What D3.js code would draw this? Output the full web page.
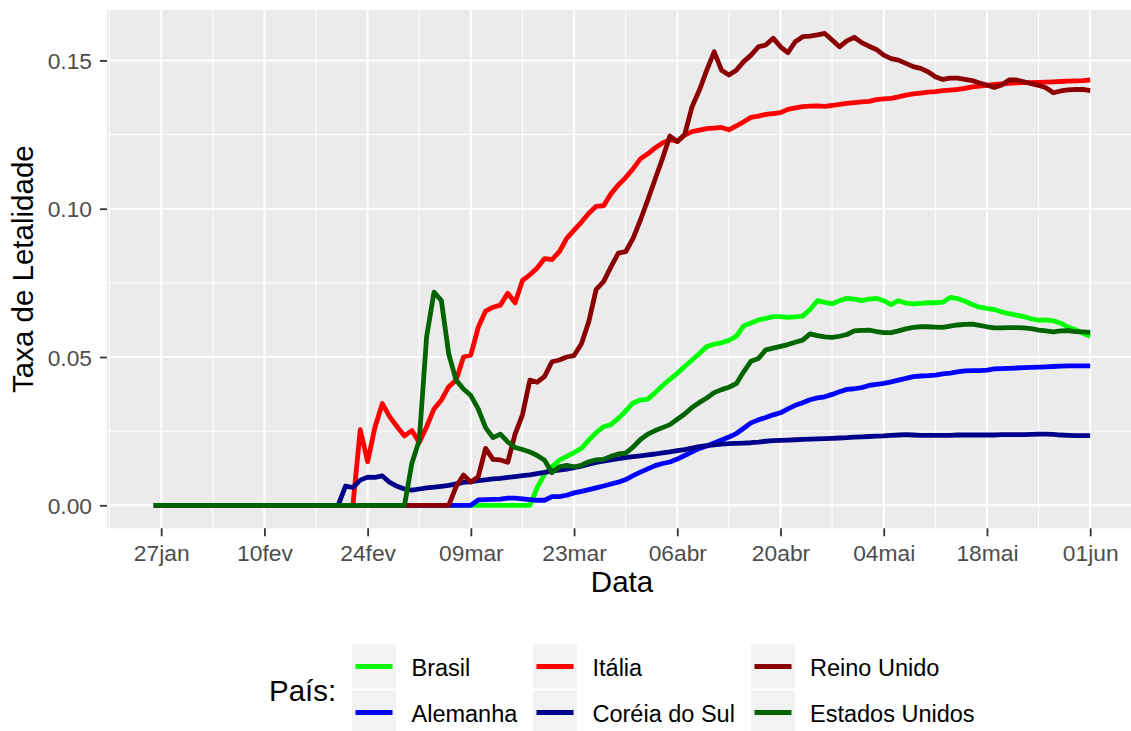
<!DOCTYPE html>
<html><head><meta charset="utf-8">
<script src="https://cdn.jsdelivr.net/npm/d3@7"></script>
<style>
body{margin:0;background:#fff}
text{font-family:Arial,"Liberation Sans",sans-serif}
</style>
</head><body>
<svg id="chart" width="1131" height="731"></svg>
<script>
// ---------- data (daily, 2020-01-26 .. 2020-06-01) ----------
const firstDay = "2020-01-26";
const lastDay = "2020-06-01";

const countries = ["Brasil","Alemanha","Itália","Coréia do Sul","Reino Unido","Estados Unidos"];
const colors = ["#00FF00","#0000FF","#FF0000","#00008B","#8B0000","#006400"];

const brasil = [
 0,0,0,0,0,0,0,0,0,0,
 0,0,0,0,0,0,0,0,0,0,
 0,0,0,0,0,0,0,0,0,0,
 0,0,0,0,0,0,0,0,0,0,
 0,0,0,0,0,0,0,0,0,0,
 0,0,0.0060,0.0105,0.0130,0.0152,0.0165,0.0178,0.0192,0.0220,
 0.0245,0.0265,0.0272,0.0293,0.0318,0.0345,0.0355,0.0358,0.0380,0.0404,
 0.0425,0.0445,0.0468,0.0490,0.0512,0.0535,0.0543,0.0548,0.0556,0.0570,
 0.0605,0.0615,0.0625,0.0630,0.0636,0.0636,0.0634,0.0635,0.0638,0.0660,
 0.0690,0.0684,0.0679,0.0690,0.0698,0.0695,0.0690,0.0695,0.0698,0.0690,
 0.0677,0.0690,0.0682,0.0679,0.0681,0.0683,0.0683,0.0685,0.0701,0.0697,
 0.0688,0.0677,0.0668,0.0664,0.0660,0.0652,0.0646,0.0641,0.0636,0.0629,
 0.0624,0.0625,0.0622,0.0614,0.0601,0.0592,0.0580,0.0570
];
const alemanha = [
 0,0,0,0,0,0,0,0,0,0,
 0,0,0,0,0,0,0,0,0,0,
 0,0,0,0,0,0,0,0,0,0,
 0,0,0,0,0,0,0,0,0,0,
 0,0,0,0,0.0018,0.0019,0.0020,0.0021,0.0024,0.0024,
 0.0022,0.0019,0.0017,0.0017,0.0029,0.0029,0.0034,0.0042,0.0047,0.0053,
 0.0059,0.0065,0.0072,0.0078,0.0087,0.0100,0.0112,0.0123,0.0134,0.0141,
 0.0146,0.0156,0.0168,0.0180,0.0192,0.0200,0.0210,0.0220,0.0230,0.0242,
 0.0260,0.0278,0.0288,0.0296,0.0305,0.0312,0.0325,0.0337,0.0346,0.0356,
 0.0362,0.0366,0.0374,0.0383,0.0391,0.0393,0.0397,0.0404,0.0408,0.0411,
 0.0416,0.0422,0.0428,0.0434,0.0436,0.0437,0.0439,0.0443,0.0446,0.0450,
 0.0453,0.0454,0.0454,0.0456,0.0460,0.0461,0.0462,0.0463,0.0464,0.0465,
 0.0466,0.0467,0.0468,0.0469,0.0470,0.0470,0.0470,0.0470
];
const italia = [
 0,0,0,0,0,0,0,0,0,0,
 0,0,0,0,0,0,0,0,0,0,
 0,0,0,0,0,0,0,0,0.0255,0.0147,
 0.0264,0.0343,0.0298,0.0265,0.0234,0.0252,0.0212,0.0265,0.0325,0.0355,
 0.0400,0.0422,0.0500,0.0507,0.0600,0.0655,0.0668,0.0675,0.0715,0.0683,
 0.0758,0.0777,0.0800,0.0832,0.0828,0.0855,0.0900,0.0928,0.0955,0.0985,
 0.1008,0.1010,0.1050,0.1080,0.1105,0.1135,0.1168,0.1185,0.1205,0.1222,
 0.1232,0.1228,0.1248,0.1260,0.1265,0.1270,0.1272,0.1274,0.1266,0.1279,
 0.1293,0.1308,0.1312,0.1318,0.1321,0.1324,0.1335,0.1340,0.1344,0.1346,
 0.1347,0.1345,0.1348,0.1352,0.1355,0.1358,0.1360,0.1362,0.1368,0.1370,
 0.1372,0.1377,0.1383,0.1387,0.1390,0.1393,0.1395,0.1398,0.1400,0.1402,
 0.1406,0.1411,0.1413,0.1416,0.1419,0.1421,0.1423,0.1424,0.1425,0.1425,
 0.1426,0.1427,0.1428,0.1429,0.1430,0.1431,0.1432,0.1434
];
const coreia = [
 0,0,0,0,0,0,0,0,0,0,
 0,0,0,0,0,0,0,0,0,0,
 0,0,0,0,0,0,0.0065,0.0060,0.0085,0.0095,
 0.0094,0.0099,0.0077,0.0064,0.0055,0.0051,0.0055,0.0059,0.0061,0.0064,
 0.0067,0.0072,0.0077,0.0080,0.0083,0.0086,0.0089,0.0091,0.0094,0.0097,
 0.0100,0.0103,0.0107,0.0111,0.0116,0.0119,0.0122,0.0127,0.0132,0.0139,
 0.0145,0.0149,0.0153,0.0157,0.0161,0.0164,0.0167,0.0170,0.0173,0.0177,
 0.0180,0.0184,0.0188,0.0193,0.0198,0.0201,0.0204,0.0206,0.0208,0.0209,
 0.0210,0.0211,0.0213,0.0216,0.0218,0.0219,0.0220,0.0221,0.0222,0.0223,
 0.0224,0.0225,0.0226,0.0227,0.0228,0.0230,0.0231,0.0232,0.0233,0.0234,
 0.0236,0.0237,0.0238,0.0237,0.0236,0.0236,0.0236,0.0236,0.0236,0.0237,
 0.0237,0.0237,0.0237,0.0237,0.0237,0.0238,0.0238,0.0238,0.0238,0.0239,
 0.0240,0.0240,0.0239,0.0237,0.0236,0.0235,0.0235,0.0235
];
const reinoUnido = [
 0,0,0,0,0,0,0,0,0,0,
 0,0,0,0,0,0,0,0,0,0,
 0,0,0,0,0,0,0,0,0,0,
 0,0,0,0,0,0,0,0,0,0,
 0,0.0063,0.0102,0.0078,0.0097,0.0192,0.0155,0.0153,0.0145,0.0240,
 0.0305,0.0422,0.0415,0.0435,0.0484,0.0490,0.0500,0.0505,0.0545,0.0620,
 0.0728,0.0754,0.0804,0.0850,0.0855,0.0900,0.0962,0.1030,0.1100,0.1170,
 0.1245,0.1226,0.1250,0.1344,0.1400,0.1467,0.1529,0.1467,0.1451,0.1467,
 0.1496,0.1518,0.1546,0.1552,0.1575,0.1546,0.1526,0.1563,0.1580,0.1582,
 0.1586,0.1591,0.1569,0.1546,0.1566,0.1578,0.1560,0.1548,0.1537,0.1518,
 0.1506,0.1501,0.1490,0.1479,0.1473,0.1462,0.1445,0.1436,0.1440,0.1440,
 0.1436,0.1432,0.1424,0.1417,0.1409,0.1417,0.1434,0.1434,0.1428,0.1422,
 0.1416,0.1408,0.1391,0.1397,0.1401,0.1402,0.1402,0.1398
];
const estadosUnidos = [
 0,0,0,0,0,0,0,0,0,0,
 0,0,0,0,0,0,0,0,0,0,
 0,0,0,0,0,0,0,0,0,0,
 0,0,0,0,0,0.0142,0.0219,0.0568,0.0719,0.0690,
 0.0510,0.0422,0.0392,0.0370,0.0325,0.0262,0.0228,0.0240,0.0214,0.0195,
 0.0188,0.0180,0.0168,0.0152,0.0110,0.0130,0.0135,0.0130,0.0135,0.0147,
 0.0153,0.0155,0.0165,0.0173,0.0176,0.0196,0.0222,0.0240,0.0252,0.0262,
 0.0272,0.0290,0.0308,0.0330,0.0347,0.0362,0.0380,0.0390,0.0398,0.0410,
 0.0450,0.0486,0.0495,0.0524,0.0530,0.0536,0.0542,0.0550,0.0557,0.0578,
 0.0572,0.0568,0.0566,0.0570,0.0576,0.0588,0.0590,0.0591,0.0586,0.0582,
 0.0582,0.0588,0.0595,0.0600,0.0602,0.0602,0.0601,0.0600,0.0604,0.0608,
 0.0610,0.0611,0.0607,0.0602,0.0598,0.0598,0.0599,0.0599,0.0598,0.0596,
 0.0591,0.0588,0.0585,0.0588,0.0589,0.0586,0.0585,0.0583
];
const seriesValues = [brasil, alemanha, italia, coreia, reinoUnido, estadosUnidos];

const xTickDates = ["2020-01-27","2020-02-10","2020-02-24","2020-03-09","2020-03-23","2020-04-06","2020-04-20","2020-05-04","2020-05-18","2020-06-01"];
const xTickLabels = ["27jan","10fev","24fev","09mar","23mar","06abr","20abr","04mai","18mai","01jun"];
const xMinorDates = ["2020-01-20","2020-02-03","2020-02-17","2020-03-02","2020-03-16","2020-03-30","2020-04-13","2020-04-27","2020-05-11","2020-05-25"];
const yTicks = [0, 0.05, 0.10, 0.15];
const yMinor = [0.025, 0.075, 0.125];

// ---------- build ----------
const parse = d3.utcParse("%Y-%m-%d");
const dates = d3.utcDay.range(parse(firstDay), d3.utcDay.offset(parse(lastDay), 1));
seriesValues.forEach((s,i)=>{ if (s.length !== dates.length) throw new Error(countries[i]+" length "+s.length+" != "+dates.length); });

const P = {left:107, right:1137, top:10, bottom:528.3};
const DAY = 864e5;
const x = d3.scaleUtc()
  .domain([new Date(+dates[0] - 6.35*DAY), new Date(+dates[dates.length-1] + 6.35*DAY)])
  .range([P.left, P.right]);
const y = d3.scaleLinear().domain([-0.00775, 0.167]).range([P.bottom, P.top]);

const svg = d3.select("#chart");
svg.append("rect").attr("width",1131).attr("height",731).attr("fill","#fff");

svg.append("defs").append("clipPath").attr("id","clip")
  .append("rect").attr("x",P.left).attr("y",P.top).attr("width",P.right-P.left).attr("height",P.bottom-P.top);

svg.append("rect").attr("x",P.left).attr("y",P.top).attr("width",P.right-P.left).attr("height",P.bottom-P.top).attr("fill","#EBEBEB");

const grid = svg.append("g").attr("clip-path","url(#clip)");
grid.selectAll(".ymin").data(yMinor).join("line")
  .attr("x1",P.left).attr("x2",P.right).attr("y1",d=>y(d)).attr("y2",d=>y(d))
  .attr("stroke","#fff").attr("stroke-width",1);
grid.selectAll(".xmin").data(xMinorDates.map(parse)).join("line")
  .attr("y1",P.top).attr("y2",P.bottom).attr("x1",d=>x(d)).attr("x2",d=>x(d))
  .attr("stroke","#fff").attr("stroke-width",1);
grid.selectAll(".ymaj").data(yTicks).join("line")
  .attr("x1",P.left).attr("x2",P.right).attr("y1",d=>y(d)).attr("y2",d=>y(d))
  .attr("stroke","#fff").attr("stroke-width",2);
grid.selectAll(".xmaj").data(xTickDates.map(parse)).join("line")
  .attr("y1",P.top).attr("y2",P.bottom).attr("x1",d=>x(d)).attr("x2",d=>x(d))
  .attr("stroke","#fff").attr("stroke-width",2);

// lines
const line = d3.line().x((d,i)=>x(dates[i])).y(d=>y(d)).curve(d3.curveLinear);
const lines = svg.append("g").attr("clip-path","url(#clip)");
seriesValues.forEach((s,i)=>{
  lines.append("path").attr("d", line(s)).attr("fill","none")
    .attr("stroke", colors[i]).attr("stroke-width",4.8)
    .attr("stroke-linejoin","round").attr("stroke-linecap","butt");
});

// axes
const xAxis = d3.axisBottom(x).tickValues(xTickDates.map(parse))
  .tickFormat((d,i)=>xTickLabels[i]).tickSize(8).tickPadding(9);
const gx = svg.append("g").attr("transform",`translate(0,${P.bottom})`).call(xAxis);
gx.select(".domain").remove();
gx.selectAll(".tick line").attr("stroke","#333333").attr("stroke-width",1.8);
gx.selectAll(".tick text").attr("fill","#4D4D4D").style("font-size","22.8px");

const yAxis = d3.axisLeft(y).tickValues(yTicks).tickFormat(d3.format(".2f")).tickSize(7).tickPadding(8);
const gy = svg.append("g").attr("transform",`translate(${P.left},0)`).call(yAxis);
gy.select(".domain").remove();
gy.selectAll(".tick line").attr("stroke","#333333").attr("stroke-width",1.8);
gy.selectAll(".tick text").attr("fill","#4D4D4D").style("font-size","22.8px").attr("dy","0.36em");

// titles
svg.append("text").attr("x",(P.left+P.right)/2).attr("y",592).attr("text-anchor","middle")
  .style("font-size","29.5px").attr("fill","#000").text("Data");
svg.append("text").attr("transform",`translate(33,${(P.top+P.bottom)/2}) rotate(-90)`)
  .attr("text-anchor","middle").style("font-size","29.5px").attr("fill","#000").text("Taxa de Letalidade");

// legend
const leg = svg.append("g");
leg.append("text").attr("x",269).attr("y",700.5).style("font-size","29.5px").attr("fill","#000").text("País:");
const colX = [352, 533, 751];
const textX = [411.5, 592.5, 810];
const rowY = [644.5, 690.5];
const baseY = [676, 721.5];
countries.forEach((c,i)=>{
  const col = Math.floor(i/2), row = i%2;
  leg.append("rect").attr("x",colX[col]).attr("y",rowY[row]).attr("width",44).attr("height",44)
    .attr("fill","#F2F2F2");
  leg.append("line").attr("x1",colX[col]+3.5).attr("x2",colX[col]+40.5)
    .attr("y1",rowY[row]+22).attr("y2",rowY[row]+22)
    .attr("stroke",colors[i]).attr("stroke-width",4.8);
  leg.append("text").attr("x",textX[col]).attr("y",baseY[row]).style("font-size","23.5px")
    .attr("fill","#000").text(c);
});
</script>
</body></html>
